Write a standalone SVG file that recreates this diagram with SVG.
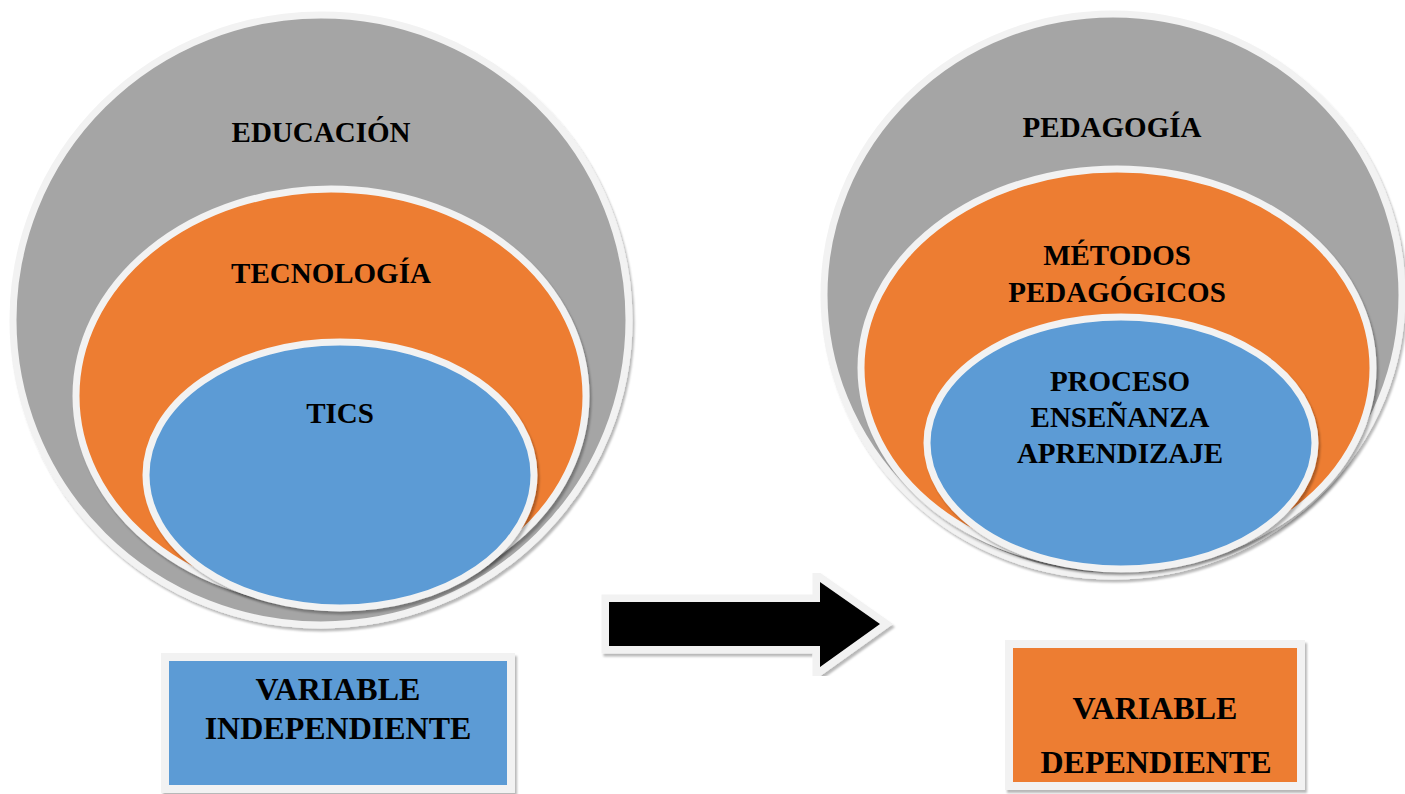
<svg xmlns="http://www.w3.org/2000/svg" width="1405" height="794" viewBox="0 0 1405 794">
<defs>
<filter id="sh" x="-10%" y="-10%" width="120%" height="120%">
<feDropShadow dx="2" dy="3" stdDeviation="1.2" flood-color="#000" flood-opacity="0.28"/>
</filter>
</defs>
<style>
.g{fill:#a5a5a5}
.o{fill:#ed7d31}
.b{fill:#5b9bd5}
.e{stroke:#f2f2f2;stroke-width:7;filter:url(#sh)}
.t{font-family:"Liberation Serif","Times New Roman",serif;font-weight:bold;font-size:29px;fill:#000;text-anchor:middle}
.tb{font-size:32px}
</style>
<rect width="1405" height="794" fill="#fff"/>
<g id="educacion">
<ellipse class="g e" cx="321" cy="320" rx="308" ry="305"/>
<text class="t" x="321" y="142">EDUCACIÓN</text>
</g>
<g id="tecnologia">
<ellipse class="o e" cx="331" cy="396" rx="255" ry="207"/>
<text class="t" x="331" y="283">TECNOLOGÍA</text>
</g>
<g id="tics">
<ellipse class="b e" cx="340" cy="475" rx="194" ry="133"/>
<text class="t" x="340" y="423">TICS</text>
</g>
<g id="pedagogia">
<ellipse class="g e" cx="1113" cy="295" rx="289" ry="281"/>
<text class="t" x="1112" y="137">PEDAGOGÍA</text>
</g>
<g id="metodos">
<ellipse class="o e" cx="1117" cy="368" rx="256" ry="199"/>
<text class="t" x="1117" y="265">MÉTODOS</text>
<text class="t" x="1117" y="302">PEDAGÓGICOS</text>
</g>
<g id="proceso">
<ellipse class="b e" cx="1121" cy="443" rx="194" ry="126"/>
<text class="t" x="1120" y="391">PROCESO</text>
<text class="t" x="1120" y="427">ENSEÑANZA</text>
<text class="t" x="1120" y="463">APRENDIZAJE</text>
</g>
<g id="connectors">
<polygon points="609,602 820,602 820,582 880,624 820,667 820,646 609,646" fill="#000" stroke="#f2f2f2" stroke-width="15" stroke-linejoin="miter" stroke-miterlimit="10" paint-order="stroke" filter="url(#sh)"/>
</g>
<g id="var-independiente">
<rect x="165" y="657" width="346" height="132" fill="#5b9bd5" stroke="#f2f2f2" stroke-width="8" filter="url(#sh)"/>
<text class="t tb" x="338" y="700">VARIABLE</text>
<text class="t tb" x="338" y="739">INDEPENDIENTE</text>
</g>
<g id="var-dependiente">
<rect x="1009" y="644" width="292" height="142" fill="#ed7d31" stroke="#f2f2f2" stroke-width="8" filter="url(#sh)"/>
<text class="t tb" x="1155" y="719">VARIABLE</text>
<text class="t tb" x="1156" y="773">DEPENDIENTE</text>
</g>
</svg>
